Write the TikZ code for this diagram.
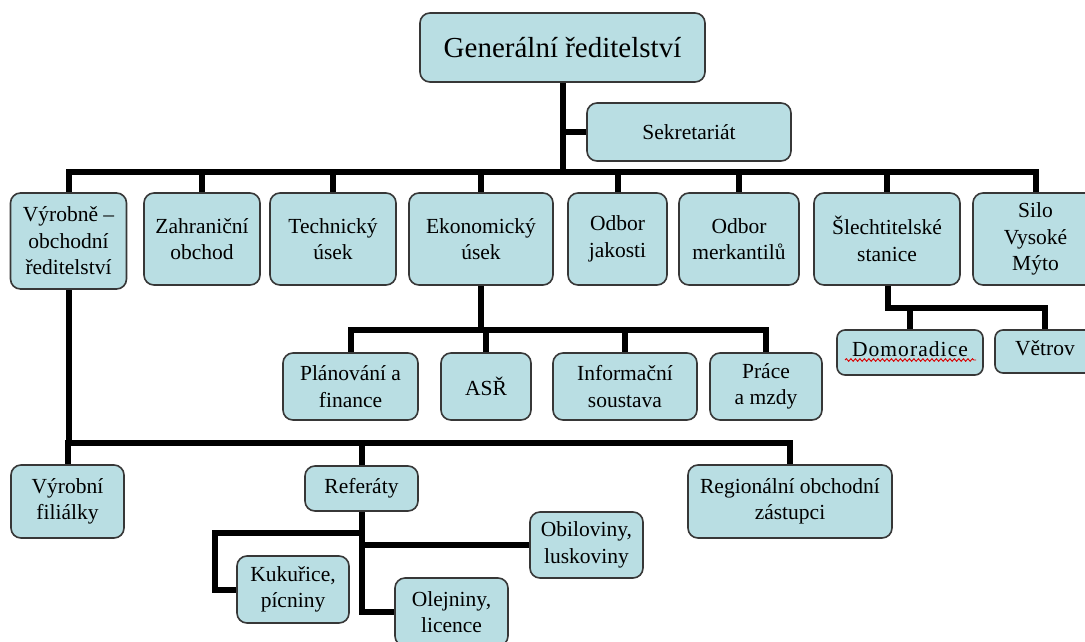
\documentclass[tikz,border=0pt]{standalone}
\usepackage{fontspec}
\setmainfont{Liberation Serif}
\usetikzlibrary{backgrounds,decorations.pathmorphing}
\definecolor{boxfill}{RGB}{185,222,227}
\definecolor{boxline}{RGB}{55,55,55}
\tikzset{
  orgbox/.style={draw=boxline, line width=1.6pt, fill=boxfill, rounded corners=10pt,
    inner sep=0pt, align=center, text=black,
    font=\fontsize{21.5}{26.5}\selectfont},
  conn/.style={draw=black, line width=6pt, line join=miter, line cap=rect},
}
\begin{document}
\begin{tikzpicture}[x=1pt,y=-1pt]
\useasboundingbox (0,0) rectangle (1085,641);
% top
\node[orgbox, minimum width=285pt, minimum height=69pt, font=\fontsize{29}{34}\selectfont] (gen) at (562.5,47.5) {Generální ředitelství};
\node[orgbox, minimum width=204pt, minimum height=58pt] (sek) at (689,132) {Sekretariát};
% level 1
\node[orgbox, minimum width=116pt, minimum height=96pt] (vo) at (68.5,241) {Výrobně –\\obchodní\\ředitelství};
\node[orgbox, minimum width=116pt, minimum height=92pt] (za) at (202,239) {Zahraniční\\obchod};
\node[orgbox, minimum width=126pt, minimum height=92pt] (te) at (333,239) {Technický\\úsek};
\node[orgbox, minimum width=144pt, minimum height=92pt] (ek) at (481,239) {Ekonomický\\úsek};
\node[orgbox, minimum width=99pt, minimum height=92pt] (oj) at (617.5,239) {Odbor\\jakosti};
\node[orgbox, minimum width=120pt, minimum height=92pt] (om) at (739,239) {Odbor\\merkantilů};
\node[orgbox, minimum width=146pt, minimum height=92pt] (sl) at (887,239) {Šlechtitelské\\stanice};
\node[orgbox, minimum width=125pt, minimum height=92pt] (si) at (1035.5,239) {Silo\\Vysoké\\Mýto};
% economic sub
\node[orgbox, minimum width=135pt, minimum height=67pt] (pf) at (350.5,386.5) {Plánování a\\finance};
\node[orgbox, minimum width=90pt, minimum height=67pt] (asr) at (486,386.5) {ASŘ};
\node[orgbox, minimum width=144pt, minimum height=67pt] (is) at (625,386.5) {Informační\\soustava};
\node[orgbox, minimum width=112pt, minimum height=67pt] (pm) at (766,386.5) {Práce\\a mzdy};
% stations
\node[orgbox, rounded corners=8pt, minimum width=146pt, minimum height=45pt, text depth=7pt, text height=15pt] (dm) at (910,352.5) {\addfontfeature{LetterSpace=5}Domoradice};
\node[orgbox, rounded corners=8pt, minimum width=100pt, minimum height=43pt, text depth=7pt, text height=15pt] (vt) at (1045,351.5) {Větrov};
% production
\node[orgbox, minimum width=113pt, minimum height=73pt] (vf) at (67.5,501.5) {Výrobní\\filiálky};
\node[orgbox, minimum width=113pt, minimum height=45pt] (ref) at (361.5,488.5) {Referáty};
\node[orgbox, minimum width=204pt, minimum height=73pt] (roz) at (790,501.5) {Regionální obchodní\\zástupci};
\node[orgbox, minimum width=112pt, minimum height=67pt] (kuk) at (293,589.5) {Kukuřice,\\pícniny};
\node[orgbox, minimum width=113pt, minimum height=66pt] (obi) at (586.5,545) {Obiloviny,\\luskoviny};
\node[orgbox, minimum width=113pt, minimum height=68pt] (ol) at (451.5,612) {Olejniny,\\licence};
% spell-check underline
\draw[red!85!black, line width=0.9pt, decorate, decoration={snake, amplitude=1.3pt, segment length=4.5pt}] (845,360) -- (976,360);
\begin{pgfonlayer}{background}
\fill[white] (0,0) rectangle (1085,641);
\coordinate (b1) at (563,172);
\coordinate (b2) at (481,330);
\coordinate (b3) at (888,308);
\coordinate (b4) at (67,443);
\coordinate (b5) at (215,533);
% main
\draw[conn] (gen.south) -- (gen.south |- b1);
\draw[conn] (sek.west) -- (sek.west -| gen.south);
\draw[conn] (vo.north) -- (vo.north |- b1) -- (si.north |- b1) -- (si.north);
\foreach \n in {za,te,ek,oj,om,sl} \draw[conn] (\n.north) -- (\n.north |- b1);
% economic
\draw[conn] (ek.south) -- (ek.south |- b2);
\draw[conn] (pf.north) -- (pf.north |- b2) -- (pm.north |- b2) -- (pm.north);
\foreach \n in {asr,is} \draw[conn] (\n.north) -- (\n.north |- b2);
% stations
\draw[conn] (sl.south -| b3) -- (b3) -- (b3 -| vt.north) -- (vt.north);
\draw[conn] (dm.north) -- (dm.north |- b3);
% production
\draw[conn] (vo.south) -- (vo.south |- b4) -- (roz.north |- b4) -- (roz.north);
\foreach \n in {vf,ref} \draw[conn] (\n.north) -- (\n.north |- b4);
% referaty
\draw[conn] (ref.south) -- (ref.south |- ol.west) -- (ol.west);
\draw[conn] (ref.south |- b5) -- (b5) |- (kuk.west);
\draw[conn] (ref.south |- obi.west) -- (obi.west);
\end{pgfonlayer}
\end{tikzpicture}
\end{document}
